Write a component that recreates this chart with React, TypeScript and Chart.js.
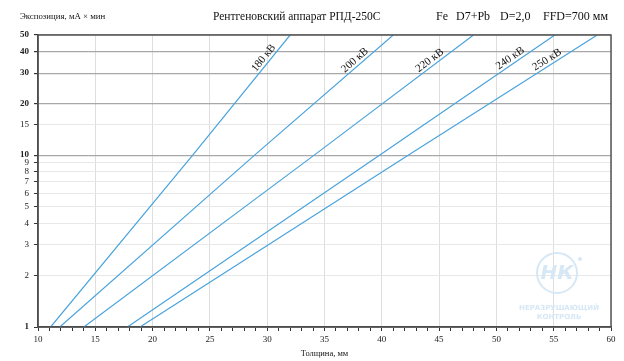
import React, { useEffect, useRef } from "react";
import { Chart, registerables } from "chart.js";

Chart.register(...registerables);

const seriesNames = ["180 кВ", "200 кВ", "220 кВ", "240 кВ", "250 кВ"];
const exposures = [1, 10, 50];
const thickness180 = [11.1, 23.5, 32.0];
const thickness200 = [11.9, 28.9, 41.0];
const thickness220 = [14.0, 34.1, 48.0];
const thickness240 = [17.8, 39.8, 55.1];
const thickness250 = [18.9, 42.3, 58.8];
const labelAtThickness = [30.1, 38.0, 44.5, 51.5, 54.7];
const yTickValues = [1, 2, 3, 4, 5, 6, 7, 8, 9, 10, 15, 20, 30, 40, 50];
const yMajor = [10, 20, 30, 40, 50];

const titleMain = "Рентгеновский аппарат РПД-250С";
const titleParams = ["Fe", "D7+Pb", "D=2,0", "FFD=700 мм"];
const yTitle = "Экспозиция, мА × мин";
const xTitle = "Толщина, мм";

const SERIF = "'Liberation Serif', 'DejaVu Serif', serif";
const LINE_COLOR = "#4aa3dc";

const allThickness = [thickness180, thickness200, thickness220, thickness240, thickness250];

const decorPlugin = {
  id: "decor",
  beforeDatasetsDraw(chart: any) {
    const { ctx, chartArea } = chart;
    ctx.save();
    const cx = chartArea.right - 54;
    const cy = chartArea.bottom - 54;
    const wm = "#d6e7f5";
    ctx.strokeStyle = wm;
    ctx.lineWidth = 2;
    ctx.beginPath();
    ctx.arc(cx, cy, 20, 0, Math.PI * 2);
    ctx.stroke();
    ctx.fillStyle = wm;
    ctx.beginPath();
    ctx.arc(cx + 23, cy - 14, 2, 0, Math.PI * 2);
    ctx.fill();
    ctx.font = "italic bold 20px 'DejaVu Sans', sans-serif";
    ctx.textAlign = "center";
    ctx.textBaseline = "middle";
    ctx.fillText("НК", cx, cy + 1);
    ctx.font = "bold 7px 'DejaVu Sans', sans-serif";
    ctx.fillText("НЕРАЗРУШАЮЩИЙ", cx + 2, cy + 35);
    ctx.fillText("КОНТРОЛЬ", cx + 2, cy + 44);
    ctx.restore();
  },
  afterDatasetsDraw(chart: any) {
    const { ctx, chartArea, scales } = chart;
    ctx.save();
    ctx.strokeStyle = "#555";
    ctx.lineWidth = 1.5;
    ctx.strokeRect(chartArea.left, chartArea.top, chartArea.right - chartArea.left, chartArea.bottom - chartArea.top);
    ctx.fillStyle = "#111";
    ctx.font = `11px ${SERIF}`;
    ctx.textAlign = "center";
    ctx.textBaseline = "middle";
    chart.data.datasets.forEach((ds: any, i: number) => {
      const meta = chart.getDatasetMeta(i);
      const pts = meta.data;
      const px = scales.x.getPixelForValue(labelAtThickness[i]);
      let seg = pts.length - 2;
      for (let k = 0; k < pts.length - 1; k++) {
        if (px >= pts[k].x && px <= pts[k + 1].x) { seg = k; break; }
      }
      const a = pts[seg], b = pts[seg + 1];
      const t = (px - a.x) / (b.x - a.x);
      const py = a.y + t * (b.y - a.y);
      const ang = Math.atan2(b.y - a.y, b.x - a.x);
      const off = 6;
      const nx = Math.sin(ang) * off;
      const ny = -Math.cos(ang) * off;
      ctx.save();
      ctx.translate(px + nx, py + ny);
      ctx.rotate(ang);
      ctx.fillText(ds.label, 0, 0);
      ctx.restore();
    });
    ctx.fillStyle = "#111";
    ctx.textBaseline = "middle";
    ctx.font = `11.5px ${SERIF}`;
    ctx.textAlign = "left";
    ctx.fillText(titleMain, 213, 17);
    ctx.font = `12px ${SERIF}`;
    const xs = [436, 456, 500, 543];
    titleParams.forEach((s, k) => ctx.fillText(s, xs[k], 17));
    ctx.font = `8.8px ${SERIF}`;
    ctx.fillText(yTitle, 20, 17);
    ctx.textAlign = "center";
    ctx.font = `8.5px ${SERIF}`;
    ctx.fillText(xTitle, (chartArea.left + chartArea.right) / 2, 354);
    ctx.restore();
  },
};

export default function App() {
  const ref = useRef<HTMLCanvasElement | null>(null);
  useEffect(() => {
    document.body.style.margin = "0";
    const canvas = ref.current!;
    const chart = new Chart(canvas, {
      type: "line",
      data: {
        datasets: seriesNames.map((name, i) => ({
          label: name,
          data: allThickness[i].map((x, k) => ({ x, y: exposures[k] })),
          borderColor: LINE_COLOR,
          borderWidth: 1.2,
          pointRadius: 0,
          fill: false,
          tension: 0,
        })),
      },
      options: {
        responsive: false,
        animation: false,
        layout: { padding: { top: 35, right: 13, left: 0, bottom: 0 } },
        plugins: { legend: { display: false }, tooltip: { enabled: false }, title: { display: false } },
        scales: {
          x: {
            type: "linear",
            min: 10,
            max: 60,
            afterFit(scale: any) { scale.height = 34; },
            ticks: {
              stepSize: 1,
              autoSkip: false,
              maxRotation: 0,
              padding: 3,
              color: "#222",
              font: { family: SERIF, size: 9 },
              callback: (v: any) => (Number(v) % 5 === 0 ? String(v) : ""),
            },
            grid: {
              color: (c: any) => (c.tick && c.tick.value % 5 === 0 ? "#dedede" : "rgba(0,0,0,0)"),
              tickColor: "#333",
              tickLength: 4,
              lineWidth: 1,
            },
            border: { color: "#333", width: 1.5 },
          },
          y: {
            type: "logarithmic",
            min: 1,
            max: 50,
            afterFit(scale: any) { scale.width = 38; },
            afterBuildTicks(scale: any) { scale.ticks = yTickValues.map((v) => ({ value: v })); },
            ticks: {
              autoSkip: false,
              padding: 5,
              color: "#222",
              font: (c: any) => ({
                family: SERIF,
                size: 9,
                weight: c.tick && (yMajor.includes(c.tick.value) || c.tick.value === 1) ? "bold" : "normal",
              }),
              callback: (v: any) => String(v),
            },
            grid: {
              color: (c: any) => (c.tick && yMajor.includes(c.tick.value) ? "#a8a8a8" : "#e8e8e8"),
              tickColor: "#333",
              tickLength: 4,
              lineWidth: (c: any) => (c.tick && yMajor.includes(c.tick.value) ? 1.2 : 1),
            },
            border: { color: "#333", width: 1.5 },
          },
        },
      },
      plugins: [decorPlugin],
    } as any);
    return () => chart.destroy();
  }, []);
  return <canvas ref={ref} width={624} height={361} style={{ display: "block" }} />;
}
